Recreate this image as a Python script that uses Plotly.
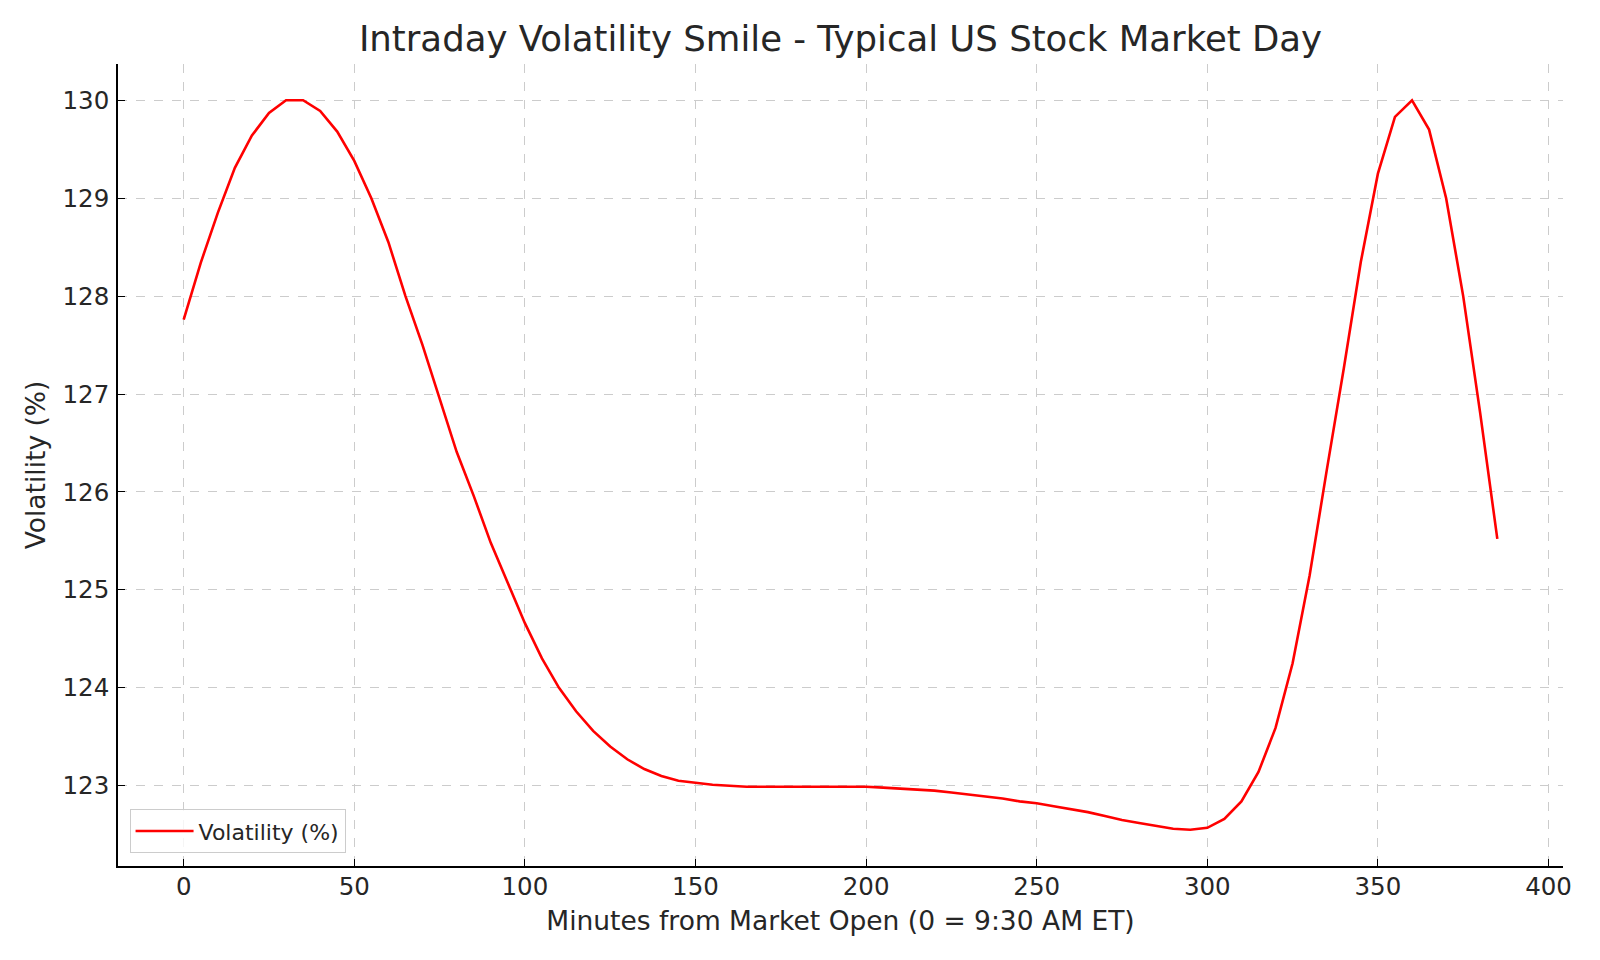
import plotly.graph_objects as go

minutes = list(range(0, 390, 5))
volatility = [
    127.76, 128.34, 128.85, 129.31, 129.64, 129.87, 130.00, 130.00, 129.89, 129.68,
    129.38, 129.00, 128.55, 128.00, 127.50, 126.95, 126.41, 125.96, 125.48, 125.07,
    124.66, 124.30, 124.00, 123.76, 123.56, 123.40, 123.27, 123.17, 123.10, 123.05,
    123.03, 123.01, 123.00, 122.99, 122.99, 122.99, 122.99, 122.99, 122.99, 122.99,
    122.99, 122.98, 122.97, 122.96, 122.95, 122.93, 122.91, 122.89, 122.87, 122.84,
    122.82, 122.79, 122.76, 122.73, 122.69, 122.65, 122.62, 122.59, 122.56, 122.55,
    122.57, 122.66, 122.84, 123.14, 123.59, 124.25, 125.15, 126.22, 127.26, 128.35,
    129.25, 129.83, 130.00, 129.70, 129.00, 128.00, 126.80, 125.52,
]
x_ticks = [0, 50, 100, 150, 200, 250, 300, 350, 400]
y_ticks = [123, 124, 125, 126, 127, 128, 129, 130]

FONT = "DejaVu Sans"

fig = go.Figure()
fig.add_trace(go.Scatter(
    x=minutes, y=volatility, mode="lines", name="Volatility (%)",
    line=dict(color="#ff0000", width=2.6),
))

fig.update_layout(
    width=1600, height=960,
    margin=dict(l=118, r=37, t=64, b=94),
    paper_bgcolor="white", plot_bgcolor="white",
    font=dict(family=FONT, color="#262626"),
    title=dict(
        text="Intraday Volatility Smile - Typical US Stock Market Day",
        x=(118 + 1563) / 2 / 1600, xanchor="center",
        y=1 - 39 / 960, yanchor="middle",
        font=dict(family=FONT, size=35.5, color="#262626"),
    ),
    showlegend=True,
    legend=dict(
        x=0.008, y=0.016, xanchor="left", yanchor="bottom",
        bgcolor="rgba(255,255,255,0.8)", bordercolor="#cccccc", borderwidth=1,
        itemwidth=58,
        font=dict(family=FONT, size=22, color="#262626"),
    ),
)

fig.update_xaxes(
    range=[-19.25, 404.25],
    tickvals=x_ticks, ticktext=[str(v) for v in x_ticks],
    showline=True, linecolor="black", linewidth=1.6, mirror=False,
    ticks="inside", ticklen=7, tickwidth=1.4, tickcolor="black",
    ticklabelstandoff=-2,
    tickfont=dict(family=FONT, size=24.5, color="#262626"),
    showgrid=True, gridcolor="#cccccc", gridwidth=1, griddash="dash",
    zeroline=False,
    title=dict(text="Minutes from Market Open (0 = 9:30 AM ET)",
               font=dict(family=FONT, size=26.5, color="#262626"), standoff=11),
)
fig.update_yaxes(
    range=[122.18, 130.37],
    tickvals=y_ticks, ticktext=[str(v) for v in y_ticks],
    showline=True, linecolor="black", linewidth=1.6, mirror=False,
    ticks="inside", ticklen=7, tickwidth=1.4, tickcolor="black",
    ticklabelstandoff=2,
    tickfont=dict(family=FONT, size=24.5, color="#262626"),
    showgrid=True, gridcolor="#cccccc", gridwidth=1, griddash="dash",
    zeroline=False,
    title=dict(text="Volatility (%)",
               font=dict(family=FONT, size=26.5, color="#262626"), standoff=9),
)

fig.write_html("out.html")
